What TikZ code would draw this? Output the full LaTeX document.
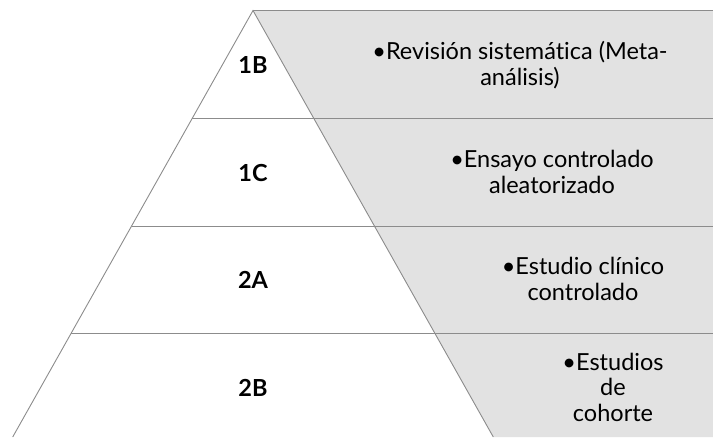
\documentclass[tikz,border=0pt]{standalone}
\usepackage{fontspec}
\setmainfont{Lato}[Ligatures=NoCommon]
\definecolor{bandfill}{HTML}{E2E2E2}
\definecolor{edge}{HTML}{8C8C8C}
\tikzset{
  edgeline/.style={draw=edge, line width=0.9pt},
  level/.style={font=\fontsize{23.5}{25.5}\selectfont\bfseries, anchor=center},
  desc/.style={font=\fontsize{23.5}{25.5}\selectfont, align=center, anchor=center, inner sep=0pt}
}
\begin{document}
\begin{tikzpicture}[x=1pt,y=-1pt]
\useasboundingbox (0,0) rectangle (713,437);
% key points
\coordinate (apex) at (253,10.5);
\coordinate (tr) at (713,10.5);
\coordinate (br) at (713,437);
\coordinate (bl) at (12.7,437);
\coordinate (bR) at (493.3,437);
\coordinate (l1) at (192.4,118);
\coordinate (e1) at (713,118);
\coordinate (l2) at (131.6,226);
\coordinate (e2) at (713,226);
\coordinate (l3) at (71.3,333);
\coordinate (e3) at (713,333);
% grey band
\fill[bandfill] (apex) -- (tr) -- (br) -- (bR) -- cycle;
% horizontal lines
\draw[edgeline] (apex) -- (tr);
\draw[edgeline] (l1) -- (e1);
\draw[edgeline] (l2) -- (e2);
\draw[edgeline] (l3) -- (e3);
% pyramid sides
\draw[edgeline] (bl) -- (apex) -- (bR);
% level labels
\node[level] (n1b) at (253,65) {1B};
\node[level] (n1c) at (253,173) {1C};
\node[level] (n2a) at (253,280) {2A};
\node[level] (n2b) at (253,388) {2B};
% descriptions
\node[desc] (d1) at (520,65) {\textbullet Revisión sistemática (Meta-\\análisis)};
\node[desc] (d2) at (552,172) {\textbullet Ensayo controlado\\aleatorizado};
\node[desc] (d3) at (583,279) {\textbullet Estudio clínico\\controlado};
\node[desc] (d4) at (613,387) {\textbullet Estudios\\de\\cohorte};
\end{tikzpicture}
\end{document}
